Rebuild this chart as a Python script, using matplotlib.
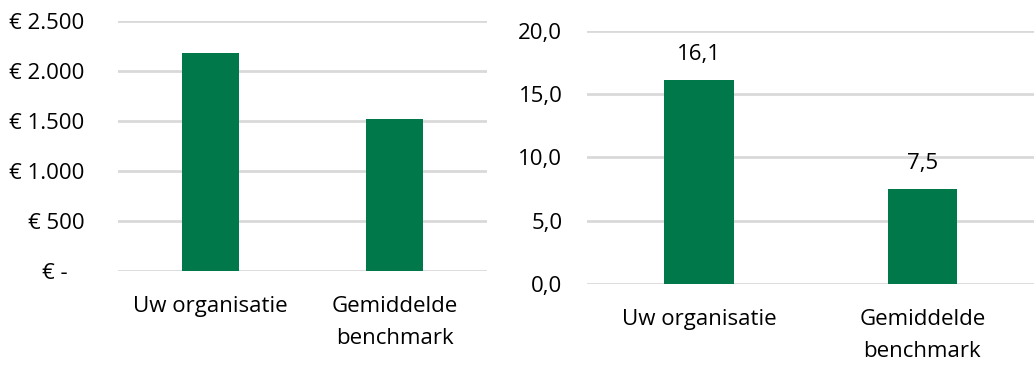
import matplotlib
matplotlib.use("Agg")
import matplotlib.pyplot as plt
from matplotlib.ticker import FixedLocator, FuncFormatter

plt.rcParams['font.family'] = ['Open Sans', 'DejaVu Sans']

categories = ["Uw organisatie", "Gemiddelde\nbenchmark"]
kosten = [2175, 1520]
kosten_ticks = [0, 500, 1000, 1500, 2000, 2500]
score = [16.1, 7.5]
score_ticks = [0, 5, 10, 15, 20]

GREEN = "#00784A"
GRID = "#D9D9D9"
TEXT = "#000000"
FS = 16

fig = plt.figure(figsize=(10.35, 3.65), dpi=100)
fig.patch.set_facecolor("white")


def style(ax, ticks, pad):
    ax.set_xlim(-0.5, len(categories) - 0.5)
    ax.set_ylim(ticks[0], ticks[-1])
    ax.yaxis.set_major_locator(FixedLocator(ticks))
    ax.grid(axis="y", color=GRID, linewidth=2)
    ax.set_axisbelow(True)
    for s in ax.spines.values():
        s.set_visible(False)
    ax.tick_params(axis="y", length=0, pad=pad, labelsize=FS, colors=TEXT)
    ax.tick_params(axis="x", length=0, pad=18, labelsize=FS, colors=TEXT)
    ax.set_xticks(range(len(categories)))
    ax.set_xticklabels(categories, linespacing=1.7)


def euro(v, _):
    if v == 0:
        return "€ -   "
    return "€ " + f"{int(v):,}".replace(",", ".")


# left panel: amounts in euro
ax1 = fig.add_axes([0.114, 0.2575, 0.3565, 0.685])
ax1.bar(range(len(categories)), kosten, width=0.31, color=GREEN, zorder=3)
style(ax1, kosten_ticks, 24)
ax1.yaxis.set_major_formatter(FuncFormatter(euro))

# right panel: scores with value labels
ax2 = fig.add_axes([0.5675, 0.2219, 0.4316, 0.694])
bars = ax2.bar(range(len(categories)), score, width=0.31, color=GREEN, zorder=3)
style(ax2, score_ticks, 18)
ax2.yaxis.set_major_formatter(FuncFormatter(lambda v, _: f"{v:.1f}".replace(".", ",")))
for rect, v in zip(bars, score):
    ax2.annotate(f"{v:.1f}".replace(".", ","),
                 (rect.get_x() + rect.get_width() / 2, rect.get_height()),
                 xytext=(0, 11), textcoords="offset points",
                 ha="center", va="bottom", fontsize=FS, color=TEXT)

fig.savefig("out.png", dpi=100)
